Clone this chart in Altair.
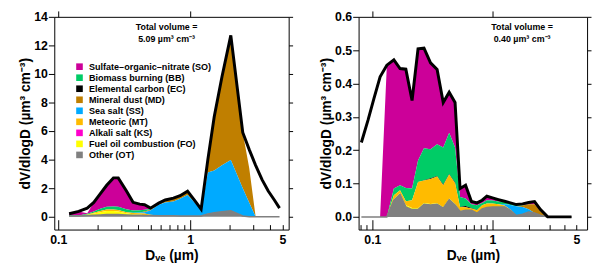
import altair as alt
import pandas as pd

SPECIES = ["Sulfate–organic–nitrate (SO)", "Biomass burning (BB)", "Elemental carbon (EC)",
           "Mineral dust (MD)", "Sea salt (SS)", "Meteoric (MT)", "Alkali salt (KS)",
           "Fuel oil combustion (FO)", "Other (OT)"]
CODES = ["SO", "BB", "EC", "MD", "SS", "MT", "KS", "FO", "OT"]
COLORS = ["#CC0099", "#00CC66", "#000000", "#C07F00", "#00AAFF", "#FFBB00", "#FF00CC", "#FFFF00", "#808080"]

# ---------------- left panel ----------------
L_D = [0.121, 0.143, 0.166, 0.186, 0.208, 0.233, 0.262, 0.285, 0.329, 0.369, 0.414, 0.451, 0.50, 0.577,
       0.647, 0.746, 0.838, 0.955, 1.08, 1.21, 1.36, 1.52, 1.74, 2.03, 2.50, 2.80, 3.13, 3.50, 3.90, 4.35, 4.75]
L_TOTAL = [0.21, 0.37, 0.60, 1.00, 1.60, 2.20, 2.72, 2.72, 1.80, 1.01, 0.88, 0.84, 0.60, 0.95,
           1.17, 1.30, 1.47, 1.79, 1.15, 0.53, 4.0, 7.0, 9.8, 12.7, 5.9, 4.7, 3.6, 2.6, 1.8, 1.15, 0.6]
L_SO = [0.11, 0.29, 0.04, 0.63, 1.05, 1.50, 2.00, 2.03, 1.28, 0.58, 0.43, 0.36, 0.06, 0,
        0, 0, 0, 0, 0, 0, 0, 0, 0, 0, 0, 0, 0, 0, 0, 0, 0]
L_BB = [0.05, 0.03, 0.05, 0.10, 0.15, 0.20, 0.22, 0.22, 0.20, 0.15, 0.15, 0.12, 0.05, 0.03,
        0.02, 0.02, 0.02, 0.02, 0.02, 0, 0, 0, 0, 0, 0, 0, 0, 0, 0, 0, 0]
L_EC = [0] * 31
L_MD = [0, 0, 0, 0, 0, 0, 0, 0, 0, 0, 0, 0.05, 0.05, 0.09,
        0.16, 0.22, 0.20, 0.25, 0.13, 0.05, 0.90, 3.77, 6.20, 8.72, 3.90, 2.42, 0, 0, 0, 0, 0]
L_SS = [0, 0, 0, 0, 0, 0, 0, 0, 0, 0.02, 0.05, 0.08, 0.30, 0.75,
        0.93, 1.00, 1.20, 1.47, 0.95, 0.43, 2.90, 2.95, 3.25, 3.56, 1.95, 0.97, 0, 0, 0, 0, 0]
L_MT = [0, 0, 0.03, 0.05, 0.08, 0.10, 0.10, 0.10, 0.08, 0.08, 0.10, 0.12, 0.05, 0.02,
        0, 0, 0, 0, 0, 0, 0, 0, 0, 0, 0, 0, 0, 0, 0, 0, 0]
L_KS = [0] * 31
L_FO = [0, 0, 0.05, 0.12, 0.20, 0.25, 0.25, 0.22, 0.12, 0.08, 0.05, 0.03, 0.01, 0,
        0, 0, 0, 0, 0, 0, 0, 0, 0, 0, 0, 0, 0, 0, 0, 0, 0]
L_OT = [0.05, 0.05, 0.08, 0.10, 0.12, 0.15, 0.15, 0.15, 0.12, 0.10, 0.10, 0.08, 0.08, 0.06,
        0.06, 0.06, 0.05, 0.05, 0.05, 0.05, 0.20, 0.28, 0.35, 0.42, 0.05, 0, 0, 0, 0, 0, 0]

# ---------------- right panel ----------------
R_D = [0.081, 0.092, 0.103, 0.116, 0.132, 0.151, 0.170, 0.190, 0.214, 0.240, 0.269, 0.305, 0.346, 0.389,
       0.436, 0.488, 0.537, 0.597, 0.668, 0.743, 0.820, 0.898, 1.00, 1.12, 1.26, 1.41, 1.58, 1.78,
       2.00, 2.24, 2.51, 2.88, 3.20, 3.60, 4.00, 4.55]
R_TOTAL = [0.223, 0.29, 0.355, 0.42, 0.455, 0.471, 0.445, 0.443, 0.349, 0.504, 0.506, 0.462, 0.442, 0.343,
           0.374, 0.343, 0.085, 0.095, 0.046, 0.042, 0.050, 0.062, 0.057, 0.052, 0.047, 0.042, 0.037, 0.039,
           0.043, 0.046, 0.022, 0, 0, 0, 0, 0]
R_SO = [0, 0, 0, 0, 0.455, 0.386, 0.350, 0.356, 0.264, 0.334, 0.300, 0.259, 0.224, 0.135,
        0.122, 0.135, 0.025, 0.040, 0.008, 0.007, 0.008, 0.012, 0.008, 0.006, 0.003, 0.002, 0.002, 0.003,
        0.005, 0.008, 0.005, 0, 0, 0, 0, 0]
R_BB = [0, 0, 0, 0, 0, 0.020, 0.015, 0.040, 0.035, 0.064, 0.096, 0.087, 0.095, 0.111,
        0.123, 0.105, 0.030, 0.022, 0.011, 0.014, 0.007, 0.010, 0.009, 0.008, 0.006, 0.004, 0.003, 0.002,
        0, 0, 0, 0, 0, 0, 0, 0]
R_EC = [0, 0, 0, 0, 0, 0, 0, 0, 0, 0, 0.001, 0.002, 0.002, 0.002,
        0.002, 0.002, 0, 0.004, 0.002, 0.001, 0, 0, 0, 0, 0, 0, 0, 0,
        0, 0, 0, 0, 0, 0, 0, 0]
R_MD = [0, 0, 0, 0, 0, 0, 0, 0, 0, 0, 0, 0, 0, 0,
        0, 0, 0, 0, 0, 0, 0, 0, 0, 0, 0, 0, 0, 0.004,
        0.015, 0.026, 0.012, 0, 0, 0, 0, 0]
R_SS = [0, 0, 0, 0, 0, 0, 0, 0, 0, 0, 0, 0, 0, 0,
        0, 0, 0, 0, 0, 0, 0, 0, 0, 0, 0.004, 0.014, 0.028, 0.022,
        0.008, 0, 0, 0, 0, 0, 0, 0]
R_MT = [0, 0, 0, 0, 0, 0.012, 0.008, 0.012, 0.023, 0.079, 0.067, 0.075, 0.080, 0.066,
        0.072, 0.062, 0.012, 0.008, 0.005, 0.009, 0.011, 0.012, 0.010, 0.008, 0.004, 0.002, 0, 0,
        0, 0, 0, 0, 0, 0, 0, 0]
R_KS = [0] * 36
R_FO = [0, 0, 0, 0, 0, 0.003, 0.004, 0.005, 0.005, 0.004, 0.004, 0.003, 0.003, 0.003,
        0.003, 0.003, 0.002, 0.001, 0, 0, 0, 0, 0, 0, 0, 0, 0, 0,
        0, 0, 0, 0, 0, 0, 0, 0]
R_OT = [0, 0, 0, 0, 0, 0.050, 0.068, 0.030, 0.022, 0.022, 0.038, 0.036, 0.038, 0.026,
        0.052, 0.036, 0.016, 0.020, 0.020, 0.011, 0.024, 0.028, 0.030, 0.030, 0.030, 0.020, 0.004, 0.008,
        0.015, 0.012, 0.005, 0, 0, 0, 0, 0]

X_MAJOR = [0.1, 1, 5]
X_MINOR = [0.08, 0.09, 0.2, 0.3, 0.4, 0.5, 0.6, 0.7, 0.8, 0.9, 2, 3, 4, 5]
L_YTICKS = [0, 2, 4, 6, 8, 10, 12, 14]
R_YTICKS = [0.0, 0.1, 0.2, 0.3, 0.4, 0.5, 0.6]

FONT = "Liberation Sans"


def long_df(D, comps):
    rows = []
    for i, code in enumerate(CODES):
        for d, v in zip(D, comps[code]):
            rows.append({"D": d, "species": SPECIES[i], "v": v, "ord": 8 - i})
    return pd.DataFrame(rows)


def panel(D, comps, total, xdom, ydom, yticks, yfmt, w, h, vol_text, text_x, legend):
    df = long_df(D, comps)
    tdf = pd.DataFrame({"D": D, "total": total})
    odf = pd.DataFrame({"D": D, "ot": comps["OT"]})
    xs = alt.Scale(type="log", domain=xdom, nice=False)
    ys = alt.Scale(domain=ydom, nice=False, zero=False)

    areas = alt.Chart(df).mark_area(interpolate="linear").encode(
        x=alt.X("D:Q", scale=xs, axis=alt.Axis(orient="bottom", values=X_MAJOR, format="~g",
                                               ticks=False, domain=False, grid=False, labelPadding=4,
                                               title="Dᵥₑ (µm)", titlePadding=3)),
        y=alt.Y("v:Q", stack="zero", scale=ys,
                axis=alt.Axis(orient="left", values=yticks, format=yfmt, tickSize=6, domain=False,
                              grid=False, labelPadding=1, titlePadding=1,
                              title="dV/dlogD (µm³ cm⁻³)")),
        color=alt.Color("species:N", scale=alt.Scale(domain=SPECIES, range=COLORS), legend=legend),
        order=alt.Order("ord:Q", sort="ascending"),
    )
    ot_line = alt.Chart(odf).mark_line(color="#808080", strokeWidth=1.5).encode(
        x=alt.X("D:Q", scale=xs, axis=alt.Axis(orient="top", offset=-h, values=X_MINOR, labels=False,
                                               tickSize=5, domain=False, grid=False, title=None)),
        y=alt.Y("ot:Q", scale=ys, axis=None),
    )
    tot_line = alt.Chart(tdf).mark_line(color="black", strokeWidth=3, strokeJoin="miter").encode(
        x=alt.X("D:Q", scale=xs, axis=alt.Axis(orient="top", offset=-h, values=[0.1, 1], labels=False,
                                               tickSize=10, domain=False, grid=False, title=None)),
        y=alt.Y("total:Q", scale=ys,
                axis=alt.Axis(orient="right", values=yticks, labels=False, tickSize=4,
                              domain=False, grid=False, title=None)),
    )
    top_ax = alt.Chart(tdf).mark_point(opacity=0).encode(
        x=alt.X("D:Q", scale=xs, axis=alt.Axis(orient="top", values=[0.1, 1], labels=False,
                                               tickSize=6, domain=False, grid=False, title=None)),
        y=alt.Y("total:Q", scale=ys, axis=None),
    )
    one = pd.DataFrame({"k": [0]})
    t1 = alt.Chart(one).mark_text(text="Total volume =", font=FONT, fontWeight="bold", fontSize=9,
                                  align="center", baseline="middle").encode(
        x=alt.value(text_x), y=alt.value(10))
    t2 = alt.Chart(one).mark_text(text=vol_text, font=FONT, fontWeight="bold", fontSize=9,
                                  align="center", baseline="middle").encode(
        x=alt.value(text_x), y=alt.value(23))
    return alt.layer(areas, ot_line, tot_line, top_ax, t1, t2).resolve_axis(
        x="independent", y="independent").properties(width=w, height=h)


L_COMPS = {"SO": L_SO, "BB": L_BB, "EC": L_EC, "MD": L_MD, "SS": L_SS,
           "MT": L_MT, "KS": L_KS, "FO": L_FO, "OT": L_OT}
R_COMPS = {"SO": R_SO, "BB": R_BB, "EC": R_EC, "MD": R_MD, "SS": R_SS,
           "MT": R_MT, "KS": R_KS, "FO": R_FO, "OT": R_OT}

leg = alt.Legend(orient="none", legendX=21, legendY=46, title=None, symbolType="square",
                 symbolSize=45, symbolStrokeWidth=0, labelFont=FONT, labelFontWeight="bold",
                 labelFontSize=9.2, labelOffset=5, rowPadding=1.2, padding=0, labelLimit=300)

left = panel(L_D, L_COMPS, L_TOTAL, [0.0934, 5.57], [-0.9, 14], L_YTICKS, "d", 238, 216,
             "5.09 µm³ cm⁻³", 114, leg)
right = panel(R_D, R_COMPS, R_TOTAL, [0.0768, 6.13], [-0.038, 0.6], R_YTICKS, ".1f", 232, 216,
              "0.40 µm³ cm⁻³", 166, None)

chart = alt.hconcat(left, right, spacing=26).resolve_scale(color="independent").properties(
    padding={"left": 10, "top": 0, "right": 0, "bottom": 0}
).configure_view(stroke="black", strokeWidth=1).configure_axis(
    labelFont=FONT, labelFontWeight="bold", labelFontSize=12.5, labelColor="black",
    titleFont=FONT, titleFontWeight="bold", titleFontSize=14, titleColor="black",
    tickColor="black", tickWidth=1
)

chart.save("out.html", embed_options={"renderer": "svg", "actions": False})
